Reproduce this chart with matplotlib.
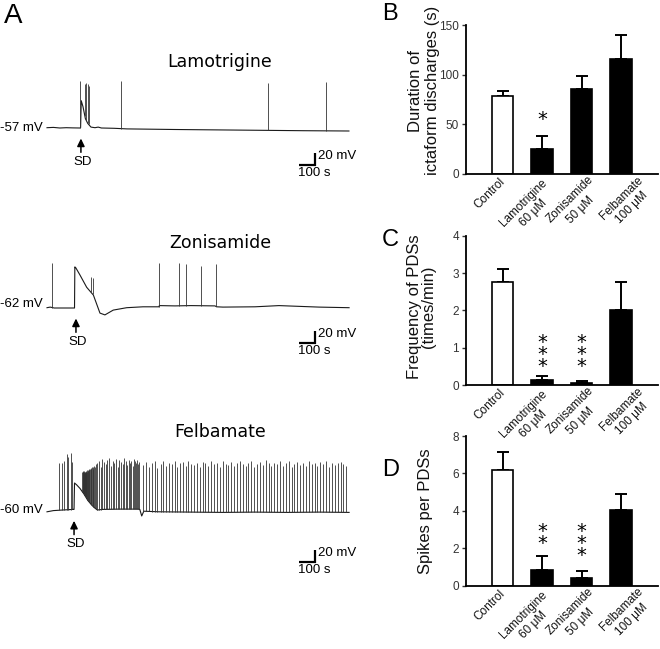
import numpy as np
import matplotlib
matplotlib.use("Agg")
import matplotlib.pyplot as plt
from matplotlib.transforms import ScaledTranslation

plt.rcParams['font.family'] = ['Liberation Sans', 'DejaVu Sans']

# ==========================================================
# Data: bar panels (B, C, D)
# ==========================================================
groups = ['Control', 'Lamotrigine\n60 μM', 'Zonisamide\n50 μM', 'Felbamate\n100 μM']
bar_colors = ['white', 'black', 'black', 'black']

dur_mean = [79, 25, 86, 116]
dur_sem = [4.3, 12.8, 12.5, 23.5]
dur_stars = [0, 1, 0, 0]

freq_mean = [2.77, 0.14, 0.06, 2.0]
freq_sem = [0.33, 0.11, 0.05, 0.77]
freq_stars = [0, 3, 3, 0]

spk_mean = [6.17, 0.82, 0.40, 4.03]
spk_sem = [1.0, 0.78, 0.36, 0.88]
spk_stars = [0, 2, 3, 0]

# ==========================================================
# Data: membrane potential traces (time in s, potential in mV)
# ==========================================================
lam_v0 = -57
lam_base_t = [0, 40, 80, 120, 160, 205, 210, 214, 225, 240, 255, 275, 300, 320, 340, 420,
              500, 650, 800, 1000, 1200, 1400, 1600, 1887]
lam_base_v = [-57, -56.5, -57.5, -57, -57.3, -57.5, -57, -12, -22, -42, -50, -56, -57, -56,
              -57.5, -58, -59, -59.5, -60, -60.5, -61, -61.5, -62, -62.5]
lam_spike_t = [208, 237, 245, 254, 260, 462, 1383, 1742]
lam_spike_v = [21, 16, 17.5, 16.5, 12.5, 21, 17, 20]

zon_v0 = -62
zon_base_t = [0, 20, 45, 100, 172, 174, 180, 206, 248, 290, 331, 362, 414, 498, 600, 700,
              702, 800, 900, 1050, 1060, 1100, 1300, 1450, 1550, 1700, 1888]
zon_base_v = [-62, -61, -62.5, -62.5, -62.5, 6, 4.5, -7.5, -28, -41, -71, -74, -66, -62,
              -60.5, -60.5, -58.5, -59, -58.5, -59, -60.5, -61, -60.5, -58.5, -59.5, -61, -62]
zon_spike_t = [33, 273, 285, 700, 823, 867, 964, 1056]
zon_spike_v = [12, -11, -13, 12, 12, 11, 8, 11]

fel_v0 = -60
fel_base_t = [0, 40, 100, 165, 169, 172, 185, 206, 230, 255, 280, 300, 315, 350, 450, 570,
              580, 592, 605, 700, 900, 1100, 1300, 1500, 1700, 1888]
fel_base_v = [-63, -61, -60, -59, -59, -15, -18, -24, -33, -44, -52, -57, -60, -59, -58.5,
              -58.5, -59, -70, -62, -63, -63.5, -64, -63.5, -64, -63.5, -64]
fel_spike_t = [77, 92, 106, 123, 133, 148, 156,
               221, 223, 225, 227, 229, 231, 233, 235, 237, 239, 241, 243, 246, 249, 252, 255,
               258, 261, 264, 268, 272, 276, 280, 285, 290, 295, 300, 306,
               315, 325, 336, 346, 357, 368, 378, 389, 400, 410, 421, 431, 442, 452, 463, 473,
               484, 494, 503, 511, 519, 527, 535, 543, 550, 557, 564, 571, 578,
               603, 619, 640, 655, 676, 690, 711, 727, 746, 760, 781, 797, 815, 832, 849, 868,
               884, 901, 921, 936, 955, 973, 990, 1009, 1026, 1044, 1062, 1081, 1097, 1116,
               1133, 1152, 1170, 1187, 1205, 1224, 1241, 1259, 1277, 1295, 1312, 1331, 1349,
               1366, 1385, 1402, 1420, 1439, 1456, 1474, 1492, 1510, 1529, 1546, 1564, 1582,
               1600, 1619, 1636, 1655, 1672, 1690, 1709, 1726, 1744, 1763, 1780, 1798, 1816,
               1835, 1852, 1870]
fel_spike_v = [18, 18, 21, 33, 28, 35, 20,
               4, 5, 3, 4, 2, 3, 5, 4, 3, 2, 4, 3, 5, 4, 6, 5,
               6, 8, 7, 8, 10, 9, 12, 11, 9, 14, 12, 16,
               18, 22, 12, 25, 20, 16, 24, 27, 14, 21, 19, 25, 11, 23, 20, 17, 26, 22, 15, 24,
               19, 21, 13, 25, 22, 18, 24, 16, 20,
               15, 20, 12, 18, 22, 10, 17, 21, 14, 19, 16, 22, 11, 18, 20, 13, 21, 17, 15, 19,
               12, 20, 18, 14, 22, 16, 19, 11, 21, 17, 15, 20, 13, 18, 22, 16, 14, 19, 21, 12,
               17, 20, 15, 23, 18, 13, 19, 16, 21, 14, 18, 22, 12, 17, 20, 15, 19, 13, 21, 16,
               18, 14, 20, 17, 22, 12, 19, 15, 18, 20, 16, 14]

# ==========================================================
# Layout helpers (pixel boxes on a 660 x 649 canvas)
# ==========================================================
W, H = 660, 649
fig = plt.figure(figsize=(W / 100, H / 100), dpi=100)


def px_axes(left, top, width, height):
    ax = fig.add_axes([left / W, 1 - (top + height) / H, width / W, height / H])
    ax.patch.set_visible(False)
    return ax


def px_text(x, y, s, **kw):
    fig.text(x / W, 1 - y / H, s, **kw)


# ==========================================================
# Panel A: traces
# ==========================================================
MV_PER_PX = 20 / 12.0
T_LIM = (-43.75, 1956.25)


def draw_trace(top, base_px, v0, base_t, base_v, spike_t, spike_v, bar_drop_px, label):
    h = 150
    ax = px_axes(40, top, 320, h)
    ax.set_xlim(*T_LIM)
    ax.set_ylim(v0 - (top + h - base_px) * MV_PER_PX, v0 + (base_px - top) * MV_PER_PX)
    ax.axis('off')

    ax.plot(base_t, base_v, color='0.1', lw=0.8)
    spike_base = np.interp(spike_t, base_t, base_v)
    ax.vlines(spike_t, spike_base, spike_v, color='0.2', lw=0.6)

    ax.text(-25, v0 + (base_px - label[1]) * MV_PER_PX, label[0],
            ha='right', va='center', fontsize=9.5)

    # SD arrow at onset
    t_sd = label[2]
    ax.annotate('', xy=(t_sd, v0 - 18), xytext=(t_sd, v0 - 41),
                arrowprops=dict(arrowstyle='-|>,head_width=0.22,head_length=0.45',
                                lw=1.1, color='k', shrinkA=0, shrinkB=0))
    ax.text(t_sd + 8, v0 - 57, 'SD', ha='center', va='center', fontsize=9.5)

    # scale bar: 100 s, 20 mV
    vc = v0 - bar_drop_px * MV_PER_PX
    tc = 1675
    ax.plot([tc - 100, tc, tc], [vc, vc, vc + 20], color='k', lw=1.6,
            solid_joinstyle='miter', solid_capstyle='butt')
    ax.text(tc + 19, vc + 14, '20 mV', ha='left', va='center', fontsize=9.5)
    ax.text(tc - 106, vc - 4, '100 s', ha='left', va='top', fontsize=9.5)
    return ax


draw_trace(40, 127.7, lam_v0, lam_base_t, lam_base_v, lam_spike_t, lam_spike_v, 36.8,
           ('-57 mV', 127.7, 212))
draw_trace(230, 307.7, zon_v0, zon_base_t, zon_base_v, zon_spike_t, zon_spike_v, 35.0,
           ('-62 mV', 304, 181))
draw_trace(440, 510, fel_v0, fel_base_t, fel_base_v, fel_spike_t, fel_spike_v, 51.7,
           ('-60 mV', 510, 169))

title_kw = dict(ha='center', va='center', fontsize=12.5, family='DejaVu Sans')
px_text(220, 62, 'Lamotrigine', **title_kw)
px_text(220, 243, 'Zonisamide', **title_kw)
px_text(220, 432, 'Felbamate', **title_kw)

# ==========================================================
# Panels B-D: bar charts
# ==========================================================
label_shift_px = [(-4, -2), (-1, -3), (6, 0), (16, 0)]


def draw_bars(top, height, mean, sem, stars, ylim, yticks, ylabel, label_xy, label_ls,
              star_top):
    ax = px_axes(466, top, 192, height)
    x = np.arange(len(groups))
    ax.errorbar(x, mean, yerr=[np.zeros(len(sem)), sem], fmt='none', ecolor='k',
                elinewidth=1.4, capsize=4.3, capthick=1.4, zorder=1)
    ax.bar(x, mean, width=0.54, color=bar_colors, edgecolor='k', linewidth=1.2, zorder=2)
    ax.set_xlim(-0.93, 3.94)
    ax.set_ylim(*ylim)
    ax.set_yticks(yticks)
    ax.set_xticks([])
    for i, (lab, (dx, dy)) in enumerate(zip(groups, label_shift_px)):
        tr = ax.get_xaxis_transform() + ScaledTranslation(dx / 100, dy / 100,
                                                          fig.dpi_scale_trans)
        ax.text(i, 0, lab, transform=tr, rotation=45, ha='right', va='top',
                rotation_mode='anchor', fontsize=8.5, multialignment='center',
                linespacing=1.25, color='#111')
    ax.tick_params(axis='y', length=3, width=1, labelsize=8.5, pad=2, colors='#333')
    for side in ('top', 'right'):
        ax.spines[side].set_visible(False)
    for side in ('left', 'bottom'):
        ax.spines[side].set_linewidth(1.3)
    ax.set_ylabel(ylabel, fontsize=12, linespacing=label_ls, color='#111')
    ax.yaxis.set_label_coords(*label_xy)
    for i, n in enumerate(stars):
        if n:
            ax.annotate('\n'.join(['*'] * n), xy=(i, star_top), xytext=(0, 5.5),
                        textcoords='offset points', ha='center', va='top',
                        fontsize=14, family='DejaVu Sans', linespacing=0.51)
    return ax


draw_bars(25, 149, dur_mean, dur_sem, dur_stars, (0, 150), [0, 50, 100, 150],
          'Duration of\nictaform discharges (s)', (-0.135, 0.56), 1.15, 56.4)
draw_bars(235.7, 149.3, freq_mean, freq_sem, freq_stars, (0, 4), [0, 1, 2, 3, 4],
          'Frequency of PDSs\n(times/min)', (-0.155, 0.526), 0.95, 1.18)
draw_bars(436, 149.7, spk_mean, spk_sem, spk_stars, (0, 8), [0, 2, 4, 6, 8],
          'Spikes per PDSs', (-0.172, 0.5), 1.0, 2.98)

# panel letters
px_text(4, 3, 'A', ha='left', va='top', fontsize=20)
px_text(382, 3, 'B', ha='left', va='top', fontsize=17)
px_text(382, 229, 'C', ha='left', va='top', fontsize=17)
px_text(382, 459, 'D', ha='left', va='top', fontsize=17)

fig.savefig('out.png', dpi=100)
